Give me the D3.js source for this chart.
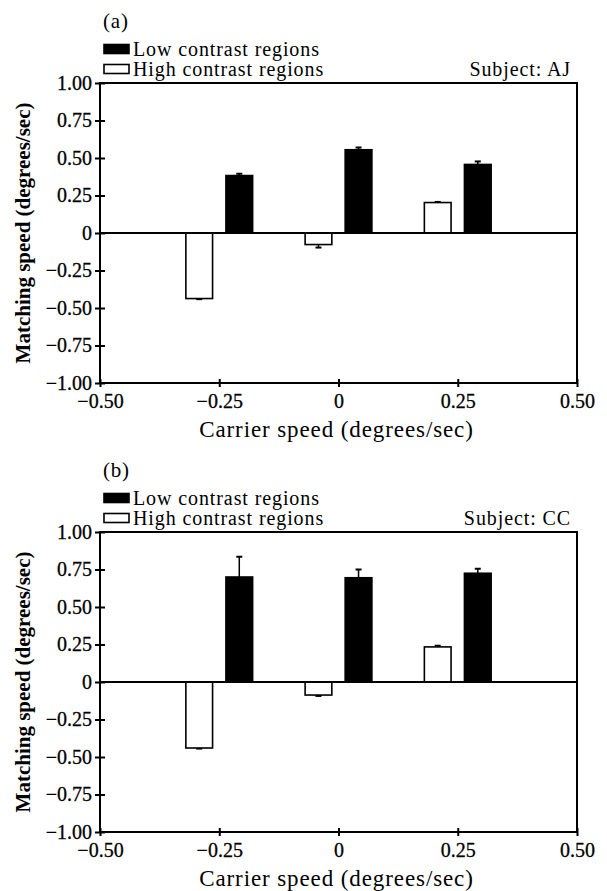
<!DOCTYPE html>
<html>
<head>
<meta charset="utf-8">
<script src="https://cdn.jsdelivr.net/npm/d3@7"></script>
<style>
  body { margin: 0; background: #fff; }
  text { font-family: 'Liberation Serif', 'Times New Roman', serif; fill: #000; }
</style>
</head>
<body>
<div id="chart"></div>
<script>
// carrier speeds (degrees/sec)
const carrierSpeeds = [-0.25, 0, 0.25];
const xTicks = [-0.50, -0.25, 0, 0.25, 0.50];
const yTicks = [1.00, 0.75, 0.50, 0.25, 0, -0.25, -0.50, -0.75, -1.00];

const panelLabels = ['(a)', '(b)'];
const subjects = ['AJ', 'CC'];

// matching speeds, subject AJ
const ajHigh = [-0.437, -0.077, 0.203];
const ajHighErr = [0.004, 0.02, 0.004];
const ajLow = [0.383, 0.555, 0.457];
const ajLowErr = [0.012, 0.015, 0.02];

// matching speeds, subject CC
const ccHigh = [-0.44, -0.087, 0.234];
const ccHighErr = [0.004, 0.006, 0.008];
const ccLow = [0.70, 0.695, 0.725];
const ccLowErr = [0.135, 0.055, 0.03];

const width = 607, height = 891;
const svg = d3.select('#chart').append('svg')
  .attr('width', width)
  .attr('height', height);

const panels = [
  {label: panelLabels[0], subject: subjects[0], top: 83, high: ajHigh, highErr: ajHighErr, low: ajLow, lowErr: ajLowErr},
  {label: panelLabels[1], subject: subjects[1], top: 532, high: ccHigh, highErr: ccHighErr, low: ccLow, lowErr: ccLowErr}
];

const plotLeft = 100, plotRight = 577, plotH = 300;
const barOffset = 0.042, barHalf = 0.028;
const fmt = d => d === 0 ? '0' : d3.format('.2f')(d).replace('-', '\u2212');

function drawPanel(p) {
  const x = d3.scaleLinear().domain([-0.5, 0.5]).range([plotLeft, plotRight]);
  const y = d3.scaleLinear().domain([-1, 1]).range([p.top + plotH, p.top]);
  const g = svg.append('g');

  // bars: high contrast (white) and low contrast (black)
  const series = [
    {vals: p.high, errs: p.highErr, off: -barOffset, fill: '#fff'},
    {vals: p.low, errs: p.lowErr, off: barOffset, fill: '#000'}
  ];
  series.forEach(s => {
    const rows = carrierSpeeds.map((c, i) => ({c: c, v: s.vals[i], e: s.errs[i]}));
    // error bars, going away from zero
    g.append('g').selectAll('line.err')
      .data(rows)
      .enter().append('line')
      .attr('x1', d => x(d.c + s.off))
      .attr('x2', d => x(d.c + s.off))
      .attr('y1', d => y(d.v))
      .attr('y2', d => y(d.v + Math.sign(d.v) * d.e))
      .style('stroke', '#000')
      .style('stroke-width', '1.5px');
    g.append('g').selectAll('line.cap')
      .data(rows)
      .enter().append('line')
      .attr('x1', d => x(d.c + s.off) - 3)
      .attr('x2', d => x(d.c + s.off) + 3)
      .attr('y1', d => y(d.v + Math.sign(d.v) * d.e))
      .attr('y2', d => y(d.v + Math.sign(d.v) * d.e))
      .style('stroke', '#000')
      .style('stroke-width', '2px');
    g.append('g').selectAll('rect')
      .data(rows)
      .enter().append('rect')
      .attr('x', d => x(d.c + s.off - barHalf))
      .attr('width', d => x(d.c + s.off + barHalf) - x(d.c + s.off - barHalf))
      .attr('y', d => Math.min(y(d.v), y(0)))
      .attr('height', d => Math.abs(y(d.v) - y(0)))
      .style('fill', s.fill)
      .style('stroke', '#000')
      .style('stroke-width', '1.6px');
  });

  // zero line
  g.append('line')
    .attr('x1', plotLeft).attr('x2', plotRight)
    .attr('y1', y(0)).attr('y2', y(0))
    .style('stroke', '#000').style('stroke-width', '2px');

  // frame
  g.append('rect')
    .attr('x', plotLeft).attr('y', p.top)
    .attr('width', plotRight - plotLeft).attr('height', plotH)
    .style('fill', 'none').style('stroke', '#000').style('stroke-width', '2px');

  // y axis: ticks cross the axis
  const yAxis = g.append('g').attr('transform', 'translate(' + plotLeft + ',0)')
    .call(d3.axisLeft(y).tickValues(yTicks).tickFormat(fmt).tickSize(5).tickPadding(3));
  yAxis.select('.domain').remove();
  yAxis.selectAll('.tick line').attr('x2', 5).attr('x1', -5).style('stroke-width', '2px');
  yAxis.selectAll('.tick text').style('font-size', '20px').style('font-family', null)
    .style('stroke', '#000').style('stroke-width', '0.3px');

  const xAxis = g.append('g').attr('transform', 'translate(0,' + (p.top + plotH) + ')')
    .call(d3.axisBottom(x).tickValues(xTicks).tickFormat(fmt).tickSize(4).tickPadding(7));
  xAxis.select('.domain').remove();
  xAxis.selectAll('.tick line').attr('y1', -4).attr('y2', 4).style('stroke-width', '2px');
  xAxis.selectAll('.tick text').style('font-size', '20px').style('font-family', null)
    .style('stroke', '#000').style('stroke-width', '0.3px');

  // axis titles
  g.append('text')
    .attr('x', (plotLeft + plotRight) / 2 - 2)
    .attr('y', p.top + plotH + 54)
    .attr('text-anchor', 'middle')
    .style('font-size', '23px')
    .style('letter-spacing', '0.9px')
    .text('Carrier speed (degrees/sec)');
  g.append('text')
    .attr('transform', 'translate(30,' + (p.top + plotH / 2) + ') rotate(-90)')
    .attr('text-anchor', 'middle')
    .style('font-size', '21px')
    .style('font-weight', 'bold')
    .text('Matching speed (degrees/sec)');

  // panel label and legend
  g.append('text')
    .attr('x', 103).attr('y', p.top - 62)
    .attr('dominant-baseline', 'central')
    .style('font-size', '21px')
    .style('letter-spacing', '0.8px')
    .text(p.label);
  const legend = [
    {name: 'Low contrast regions', fill: '#000', dy: -34},
    {name: 'High contrast regions', fill: '#fff', dy: -14}
  ];
  g.append('g').selectAll('rect')
    .data(legend)
    .enter().append('rect')
    .attr('x', 104).attr('y', d => p.top + d.dy - 4.5)
    .attr('width', 25).attr('height', 9)
    .style('fill', d => d.fill).style('stroke', '#000').style('stroke-width', '1.6px');
  g.append('g').selectAll('text')
    .data(legend)
    .enter().append('text')
    .attr('x', 133).attr('y', d => p.top + d.dy)
    .attr('dominant-baseline', 'central')
    .style('font-size', '20px')
    .style('letter-spacing', '0.9px')
    .text(d => d.name);
  g.append('text')
    .attr('x', 571).attr('y', p.top - 14)
    .attr('dominant-baseline', 'central')
    .attr('text-anchor', 'end')
    .style('font-size', '20px')
    .style('letter-spacing', '0.9px')
    .text('Subject: ' + p.subject);
}

panels.forEach(drawPanel);
</script>
</body>
</html>
